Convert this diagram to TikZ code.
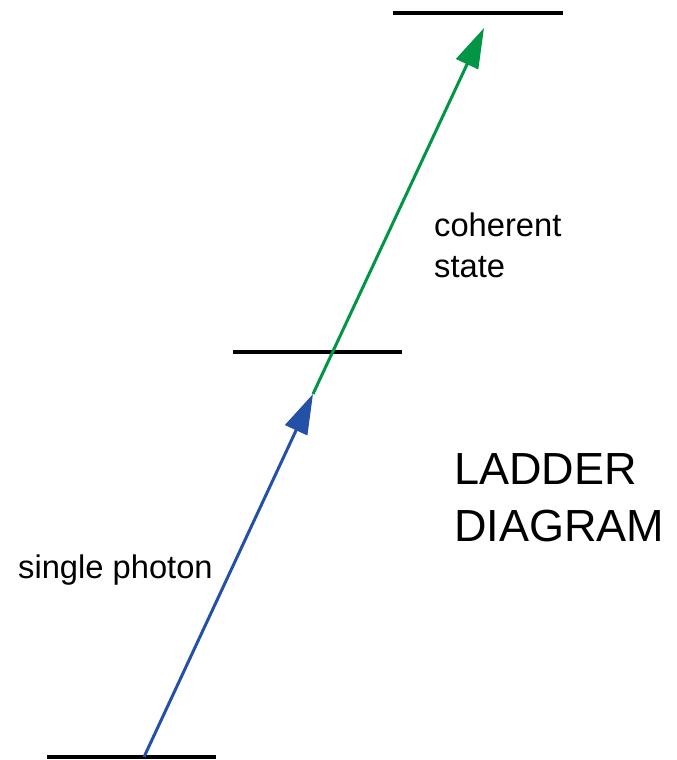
\documentclass[tikz,border=0pt]{standalone}
\usepackage{fontspec}
\setmainfont{Liberation Sans}
\usetikzlibrary{arrows.meta}
\definecolor{arrblue}{RGB}{36,80,166}
\definecolor{arrgreen}{RGB}{0,150,70}
\begin{document}
\begin{tikzpicture}[x=1pt,y=-1pt,
  level/.style={line width=4pt},
  photon/.style={line width=3pt,-{Triangle[length=40pt,width=24pt]}},
  small/.style={font=\fontsize{32.7}{38}\selectfont, inner sep=0pt, anchor=base west},
  big/.style={font=\fontsize{45}{58}\selectfont, inner sep=0pt, anchor=base west}]
\useasboundingbox (0,0) rectangle (677,760);
% levels
\coordinate (l0a) at (47,757);  \coordinate (l0b) at (216,757);
\coordinate (l1a) at (233,352); \coordinate (l1b) at (402,352);
\coordinate (l2a) at (393,13);  \coordinate (l2b) at (563,13);
\draw[level] (l0a) -- (l0b);
\draw[level] (l1a) -- (l1b);
\draw[level] (l2a) -- (l2b);
% arrows
\coordinate (start) at (144,757);
\coordinate (mid) at (313,394);
\coordinate (top) at (484,28);
\draw[photon, draw=arrblue, fill=arrblue] (start) -- (mid);
\draw[photon, draw=arrgreen, fill=arrgreen] (mid) -- (top);
% labels
\node[small] (coh) at (434,236) {coherent};
\node[small] (st) at (434,277) {state};
\node[small] (sp) at (18,578) {single photon};
\node[big] (lad) at (454,484) {LADDER};
\node[big] (dia) at (454,541) {DIAGRAM};
\end{tikzpicture}
\end{document}
